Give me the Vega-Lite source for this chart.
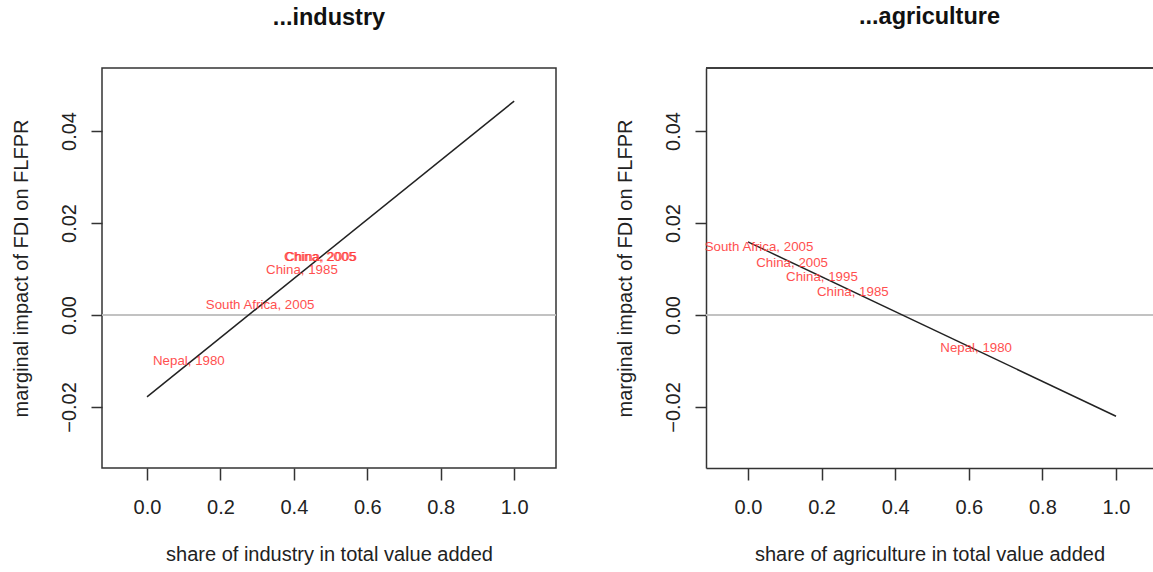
{
  "$schema": "https://vega.github.io/schema/vega-lite/v6.json",
  "padding": {"left": 10, "top": 4, "right": 0, "bottom": 0},
  "background": "white",
  "config": {
    "font": "Liberation Sans",
    "view": {"stroke": null},
    "axis": {"grid": false, "labelFont": "Liberation Sans", "titleFont": "Liberation Sans", "labelFontSize": 20, "titleFontSize": 20, "titleFontWeight": "normal", "labelColor": "#222", "titleColor": "#222", "tickColor": "#333", "tickWidth": 1.5, "domainColor": "#333", "domainWidth": 1.5},
    "title": {"fontSize": 23.5, "fontWeight": "bold", "font": "Liberation Sans", "color": "#111", "baseline": "alphabetic", "offset": 39, "anchor": "middle"},
    "concat": {"spacing": 150}
  },
  "datasets": {
    "indLine": [{"share": 0, "impact": -0.0178}, {"share": 1, "impact": 0.0465}],
    "agrLine": [{"share": 0, "impact": 0.0159}, {"share": 1, "impact": -0.0220}],
    "indLab": [
      {"share": 0.471, "impact": 0.0126, "label": "China, 2005"},
      {"share": 0.474, "impact": 0.0127, "label": "China, 2005"},
      {"share": 0.422, "impact": 0.0098, "label": "China, 1985"},
      {"share": 0.308, "impact": 0.0022, "label": "South Africa, 2005"},
      {"share": 0.114, "impact": -0.0100, "label": "Nepal, 1980"}
    ],
    "agrLab": [
      {"share": 0.030, "impact": 0.0148, "label": "South Africa, 2005"},
      {"share": 0.120, "impact": 0.0113, "label": "China, 2005"},
      {"share": 0.201, "impact": 0.0083, "label": "China, 1995"},
      {"share": 0.285, "impact": 0.0050, "label": "China, 1985"},
      {"share": 0.620, "impact": -0.0072, "label": "Nepal, 1980"}
    ]
  },
  "bounds": "flush",
  "hconcat": [
    {
      "width": 454,
      "height": 400,
      "title": "...industry",
      "view": {"stroke": "#333", "strokeWidth": 1.5},
      "layer": [
        {
          "data": {"name": "indLine"},
          "mark": {"type": "rule", "color": "#bebebe", "strokeWidth": 1.5},
          "encoding": {"y": {"datum": 0, "type": "quantitative"}}
        },
        {
          "data": {"name": "indLine"},
          "mark": {"type": "line", "color": "#222", "strokeWidth": 1.5},
          "encoding": {
            "x": {"field": "share", "type": "quantitative", "scale": {"domain": [-0.1226, 1.114], "nice": false, "zero": false},
              "axis": {"title": "share of industry in total value added", "values": [0, 0.2, 0.4, 0.6, 0.8, 1.0], "format": ".1f", "domain": false, "tickSize": 12, "labelPadding": 17, "titlePadding": 27}},
            "y": {"field": "impact", "type": "quantitative", "scale": {"domain": [-0.03326, 0.0537], "nice": false, "zero": false},
              "axis": {"title": "marginal impact of FDI on FLFPR", "values": [-0.02, 0, 0.02, 0.04], "format": ".2f", "domain": false, "tickSize": 11, "labelAngle": -90, "labelAlign": "center", "labelBaseline": "bottom", "labelPadding": 12, "titlePadding": 28}}
          }
        },
        {
          "data": {"name": "indLab"},
          "mark": {"type": "text", "color": "#ff3c3c", "fontSize": 13.3, "font": "Liberation Sans", "opacity": 0.9},
          "encoding": {
            "x": {"field": "share", "type": "quantitative"},
            "y": {"field": "impact", "type": "quantitative"},
            "text": {"field": "label"}
          }
        }
      ]
    },
    {
      "width": 447,
      "height": 400,
      "title": "...agriculture",
      "layer": [
        {
          "data": {"name": "agrLine"},
          "mark": {"type": "rule", "color": "#bebebe", "strokeWidth": 1.5},
          "encoding": {"y": {"datum": 0, "type": "quantitative"}}
        },
        {
          "data": {"name": "agrLine"},
          "mark": {"type": "rule", "color": "#333", "strokeWidth": 1.5},
          "encoding": {"y": {"datum": 0.0537, "type": "quantitative"}}
        },
        {
          "data": {"name": "agrLine"},
          "mark": {"type": "line", "color": "#222", "strokeWidth": 1.5},
          "encoding": {
            "x": {"field": "share", "type": "quantitative", "scale": {"domain": [-0.114, 1.1005], "nice": false, "zero": false},
              "axis": {"title": "share of agriculture in total value added", "values": [0, 0.2, 0.4, 0.6, 0.8, 1.0], "format": ".1f", "domain": true, "tickSize": 12, "labelPadding": 17, "titlePadding": 27}},
            "y": {"field": "impact", "type": "quantitative", "scale": {"domain": [-0.03326, 0.0537], "nice": false, "zero": false},
              "axis": {"title": "marginal impact of FDI on FLFPR", "values": [-0.02, 0, 0.02, 0.04], "format": ".2f", "domain": true, "tickSize": 11, "labelAngle": -90, "labelAlign": "center", "labelBaseline": "bottom", "labelPadding": 12, "titlePadding": 28}}
          }
        },
        {
          "data": {"name": "agrLab"},
          "mark": {"type": "text", "color": "#ff3c3c", "fontSize": 13.3, "font": "Liberation Sans", "opacity": 0.9},
          "encoding": {
            "x": {"field": "share", "type": "quantitative"},
            "y": {"field": "impact", "type": "quantitative"},
            "text": {"field": "label"}
          }
        }
      ]
    }
  ]
}
